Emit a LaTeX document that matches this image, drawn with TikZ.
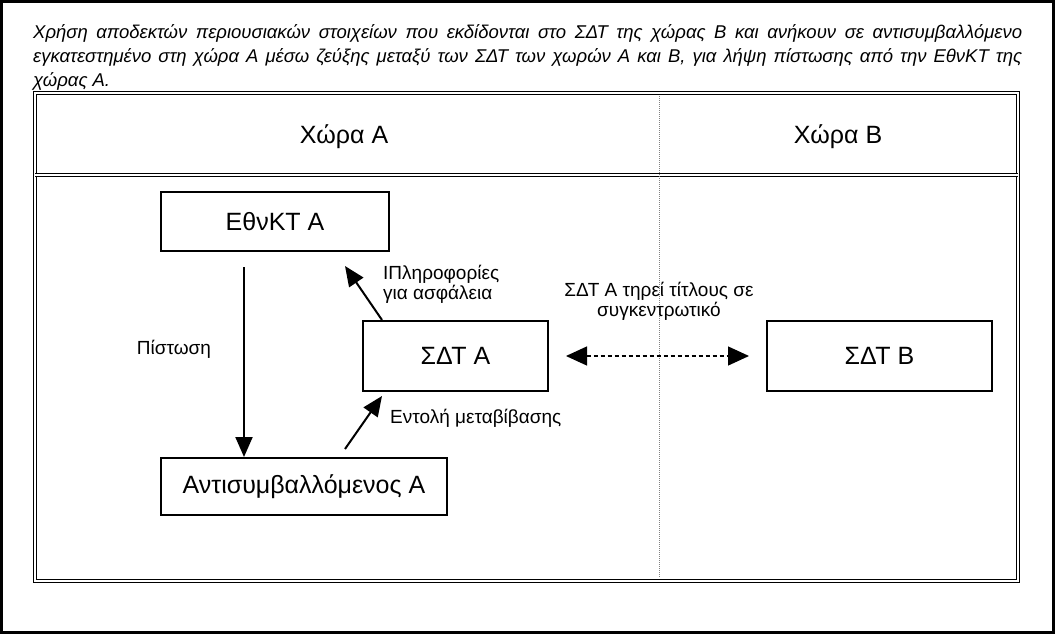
\documentclass[tikz,border=0pt]{standalone}
\usepackage{fontspec}
\setmainfont{Liberation Sans}
\usetikzlibrary{arrows.meta}
\begin{document}
\begin{tikzpicture}[x=1pt,y=-1pt,
 box/.style={draw, line width=2pt, inner sep=0pt, font=\fontsize{25}{28}\selectfont},
 lbl/.style={font=\fontsize{19}{20}\selectfont, inner sep=0pt, align=left},
 hdr/.style={font=\fontsize{25}{28}\selectfont, inner sep=0pt},
 arr/.style={line width=2pt, -{Triangle[length=20pt,width=17pt]}},
 dbl/.style={double=white, double distance=1.1pt, line width=1.8pt},
 dasharr/.style={line width=1.3pt, dash pattern=on 4pt off 3pt, {Triangle[length=21pt,width=19pt]}-{Triangle[length=21pt,width=19pt]}},
 sep/.style={densely dotted, gray, line width=1pt}
]
\useasboundingbox (0,0) rectangle (1055,634);
\draw[line width=3pt] (1.5,1.5) rectangle (1053.5,632.5);
\node[anchor=north west, inner sep=0pt, text width=989pt, align=justify,
  font=\fontsize{18.5}{24.3}\selectfont\itshape] (cap) at (33,24)
  {\hyphenpenalty=10000 Χρήση αποδεκτών περιουσιακών στοιχείων που εκδίδονται στο ΣΔΤ της χώρας Β και ανήκουν σε αντισυμβαλλόμενο\linebreak εγκατεστημένο στη χώρα Α μέσω ζεύξης μεταξύ των ΣΔΤ των χωρών Α και Β, για λήψη πίστωσης από την ΕθνΚΤ της\linebreak χώρας Α.};
\draw[dbl] (35,93) rectangle (1018,581);
\draw[dbl] (35,175) -- (1018,175);
\draw[sep] (659,96) -- (659,578);
\node[hdr] (ha) at (344,137) {Χώρα Α};
\node[hdr] (hb) at (838,137) {Χώρα Β};
\node[box, minimum width=228pt, minimum height=59pt] (ethn) at (275,221.5) {ΕθνΚΤ Α};
\node[box, minimum width=185pt, minimum height=70pt] (sdta) at (455.5,356) {ΣΔΤ Α};
\node[box, minimum width=225pt, minimum height=70pt] (sdtb) at (879.5,356) {ΣΔΤ Β};
\node[box, minimum width=286pt, minimum height=57pt] (anti) at (304,486.5) {Αντισυμβαλλόμενος Α};
\node[lbl] (pist) at (174,349) {Πίστωση};
\node[lbl, anchor=west] (plir) at (383,284) {ΙΠληροφορίες\\για ασφάλεια};
\node[lbl, anchor=west] (ento) at (390,418) {Εντολή μεταβίβασης};
\node[lbl, align=center] (tir) at (659,301) {ΣΔΤ Α τηρεί τίτλους σε\\συγκεντρωτικό};
\draw[arr] ([xshift=-31pt,yshift=-15pt]ethn.south) -- ([xshift=-60pt]anti.north);
\draw[arr] ([xshift=41pt,yshift=8pt]anti.north) -- ([xshift=-73.5pt,yshift=-4pt]sdta.south);
\draw[arr] ([xshift=-73.5pt]sdta.north) -- ([xshift=70pt,yshift=-14pt]ethn.south);
\draw[dasharr] ([xshift=17pt]sdta.east) -- ([xshift=-17pt]sdtb.west);
\end{tikzpicture}
\end{document}
